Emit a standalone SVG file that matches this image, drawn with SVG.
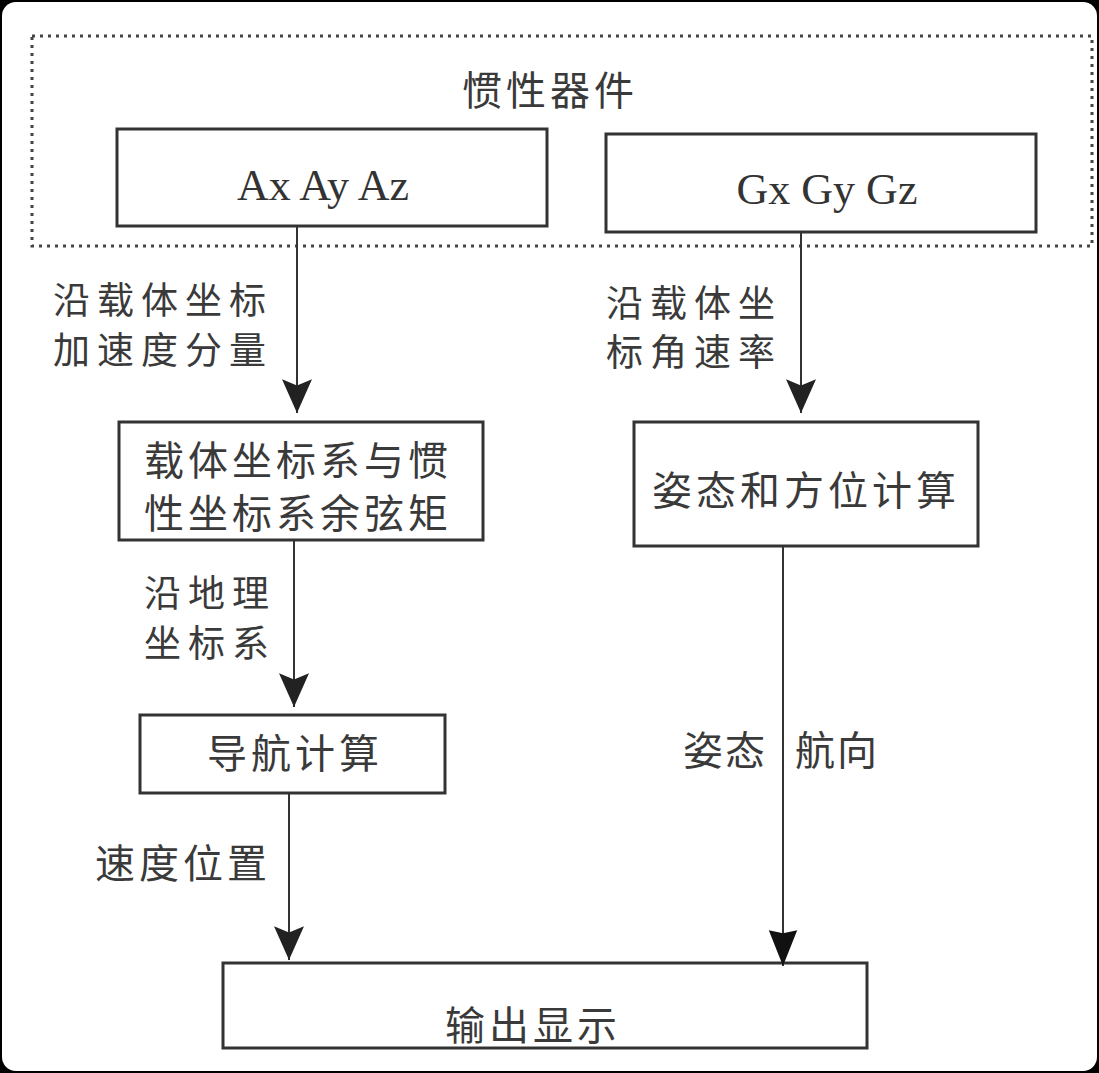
<svg xmlns="http://www.w3.org/2000/svg" width="1099" height="1073" viewBox="0 0 1099 1073">
<style>
.box{fill:none;stroke:#333;stroke-width:3}
.ln{stroke:#333;stroke-width:2;fill:none}
.cj{font-family:"Noto Sans CJK SC","Noto Sans",sans-serif;font-size:40px;fill:#3a3a3a;letter-spacing:4px}
.lb{font-family:"Noto Sans CJK SC","Noto Sans",sans-serif;font-size:37px;fill:#3a3a3a;letter-spacing:7px}
.lt{font-family:"Liberation Serif","Times New Roman",serif;font-size:44px;fill:#333;text-anchor:middle}
</style>
<defs>
<marker id="ah" markerUnits="userSpaceOnUse" markerWidth="40" markerHeight="40" viewBox="-30 -15 32 30" refX="0" refY="0" orient="auto">
<path d="M0,0 L-27,-12 L-22,0 L-27,12 Z" fill="#222"/>
</marker>
<marker id="ahb" markerUnits="userSpaceOnUse" markerWidth="40" markerHeight="40" viewBox="-36 -16 38 32" refX="0" refY="0" orient="auto">
<path d="M0,0 L-34,-13.5 L-31,0 L-34,13.5 Z" fill="#111"/>
</marker>
</defs>
<rect x="0" y="0" width="1099" height="1073" fill="#000"/>
<rect x="2" y="2" width="1095" height="1069" rx="14" fill="#fff"/>
<g id="inertial-group">
<rect x="32" y="36" width="1060" height="210" fill="none" stroke="#444" stroke-width="3" stroke-dasharray="3 5"/>
<text class="cj" x="462" y="105">惯性器件</text>
</g>
<g id="node-acc">
<rect class="box" x="117" y="129" width="430" height="97"/>
<text class="lt" x="323" y="200">Ax Ay Az</text>
</g>
<g id="node-gyro">
<rect class="box" x="606" y="134" width="430" height="98"/>
<text class="lt" x="827" y="204">Gx Gy Gz</text>
</g>
<g id="node-dcm">
<rect class="box" x="119" y="422" width="364" height="118"/>
<text class="cj" x="144" y="475">载体坐标系与惯</text>
<text class="cj" x="144" y="528">性坐标系余弦矩</text>
</g>
<g id="node-attitude">
<rect class="box" x="634" y="422" width="344" height="124"/>
<text class="cj" x="652" y="505">姿态和方位计算</text>
</g>
<g id="node-nav">
<rect class="box" x="140" y="715" width="305" height="78"/>
<text class="cj" x="207" y="768">导航计算</text>
</g>
<g id="node-output">
<rect class="box" x="223" y="963" width="644" height="85"/>
<text class="cj" x="445" y="1040">输出显示</text>
</g>
<g id="connectors">
<line class="ln" x1="297" y1="226" x2="297" y2="413" marker-end="url(#ah)"/>
<line class="ln" x1="801" y1="232" x2="801" y2="413" marker-end="url(#ah)"/>
<line class="ln" x1="294" y1="540" x2="294" y2="707" marker-end="url(#ah)"/>
<line class="ln" x1="289" y1="793" x2="289" y2="960" marker-end="url(#ah)"/>
<line class="ln" x1="783" y1="546" x2="783" y2="966" marker-end="url(#ahb)"/>
<text class="lb" x="53" y="314">沿载体坐标</text>
<text class="lb" x="53" y="364">加速度分量</text>
<text class="lb" x="606" y="317">沿载体坐</text>
<text class="lb" x="606" y="366">标角速率</text>
<text class="lb" x="144" y="607">沿地理</text>
<text class="lb" x="144" y="657">坐标系</text>
<text class="cj" x="683" y="765" style="letter-spacing:2px">姿态</text>
<text class="cj" x="795" y="765" style="letter-spacing:2px">航向</text>
<text class="cj" x="95" y="878">速度位置</text>
</g>
</svg>
